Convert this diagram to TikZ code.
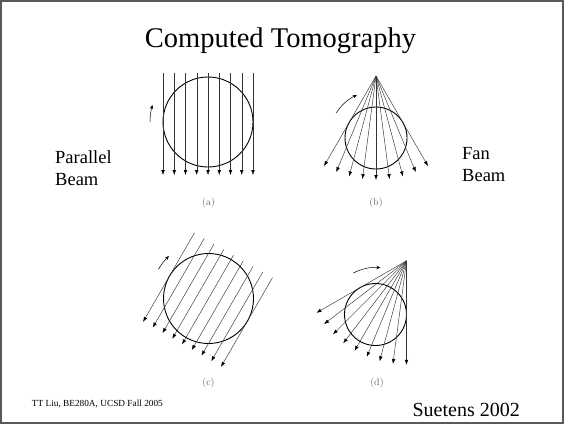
\documentclass[tikz,border=0pt]{standalone}
\usepackage{fontspec}
\usetikzlibrary{arrows.meta}
\newfontfamily\slidefont{Liberation Serif}

\begin{document}
\begin{tikzpicture}[x=1pt, y=-1pt,
        disc/.style={draw, circle, line width=0.9pt, minimum size=#1, inner sep=0pt, outer sep=0pt},
        ray/.style={draw=black!80, line width=0.45pt, -{Latex[length=5pt, width=3.6pt, black]}},
        turn/.style={line width=0.5pt, -{Stealth[length=4pt, width=3.4pt]}},
        sub/.style={font=\fontsize{10}{12}\selectfont, text=black!60, inner sep=0pt},
        txt/.style={inner sep=0pt, align=left}]
    \useasboundingbox (0,0) rectangle (564,424);
    \draw[black!65, line width=1.3pt] (1,1) rectangle (563,423);

    \node[txt, anchor=base, font=\slidefont\fontsize{28.5}{34}\selectfont] (title) at (280.5,47) {Computed Tomography};

    \begin{scope}[shift={(208,122)}]
        \node[disc=90pt] (circa) at (0,0) {};
        \foreach \x in {-45,-33.75,...,45} \draw[ray] (\x,-49) -- (\x,53);
        \draw[turn] (180:58) arc[start angle=180, end angle=197, radius=58];
    \end{scope}

    \begin{scope}[shift={(376,138)}]
        \node[disc=62pt] (circb) at (0,0) {};
        \coordinate (apexb) at (0,-62);
        \foreach \a in {60,67.5,...,120} \draw[ray] (apexb) -- ++(\a:104);
        \draw[turn] (-148:47) arc[start angle=-148, end angle=-114, radius=47];
    \end{scope}

    \begin{scope}[shift={(208.5,298.5)}, rotate=-30]
        \node[disc=90pt] (circc) at (0,0) {};
        \foreach \x in {-45,-33.75,...,45} \draw[ray] (\x,-50) -- (\x,53);
        \draw[turn] (180:58) arc[start angle=180, end angle=197, radius=58];
    \end{scope}

    \begin{scope}[shift={(375.5,314.5)}, rotate=-30]
        \node[disc=62pt] (circd) at (0,0) {};
        \coordinate (apexd) at (0,-62);
        \foreach \a in {60,67.5,...,120} \draw[ray] (apexd) -- ++(\a:104);
        \draw[turn] (-148:47) arc[start angle=-148, end angle=-114, radius=47];
    \end{scope}

    \node[sub] (laba) at (208.5,203) {(a)};
    \node[sub] (labb) at (376,203) {(b)};
    \node[sub] (labc) at (208.5,383) {(c)};
    \node[sub] (labd) at (377,383) {(d)};

    \node[txt, anchor=base west, font=\slidefont\fontsize{18.5}{22}\selectfont] (parallel) at (55,185) {Parallel\\Beam};
    \node[txt, anchor=base west, font=\slidefont\fontsize{18.5}{22}\selectfont] (fan) at (462,181) {Fan\\Beam};

    \node[txt, anchor=base west, font=\slidefont\fontsize{9.3}{11}\selectfont] (credit) at (31.7,406) {TT Liu, BE280A, UCSD Fall 2005};
    \node[txt, anchor=base east, font=\slidefont\fontsize{20}{24}\selectfont] (source) at (520,416) {Suetens 2002};
\end{tikzpicture}
\end{document}
